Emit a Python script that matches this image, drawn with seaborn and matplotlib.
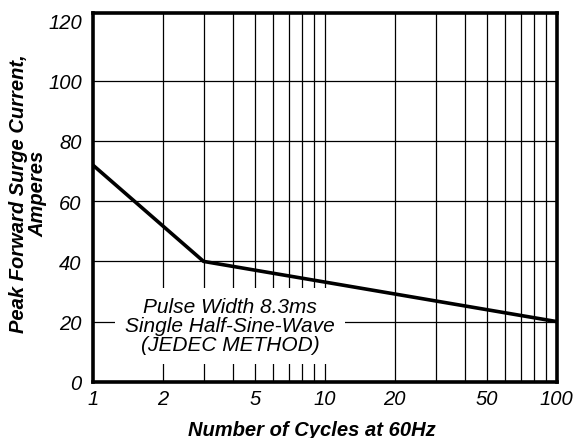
import numpy as np
import pandas as pd
import matplotlib
matplotlib.use("Agg")
import matplotlib.pyplot as plt
import seaborn as sns

# curve
cycles = [1, 3, 100]
current = [72, 40, 20]

x_ticks = [1, 2, 5, 10, 20, 50, 100]
x_grid = [2, 3, 4, 5, 6, 7, 8, 9, 10, 20, 30, 40, 50, 60, 70, 80, 90]
y_ticks = [0, 20, 40, 60, 80, 100, 120]

sns.set_style("white")
plt.rcParams['font.family'] = ['Liberation Sans', 'DejaVu Sans']
plt.rcParams['text.color'] = 'black'
plt.rcParams['axes.labelcolor'] = 'black'
plt.rcParams['xtick.color'] = 'black'
plt.rcParams['ytick.color'] = 'black'

df = pd.DataFrame({"cycles": cycles, "current": current})

fig = plt.figure(figsize=(5.77, 4.39), dpi=100)
ax = fig.add_axes([0.161, 0.128, 0.804, 0.840])

ax.set_xscale("log")
ax.set_xlim(1, 100)
ax.set_ylim(0, 122.5)

# grid
for xv in x_grid:
    ax.axvline(xv, color="black", lw=0.9, zorder=1)
for yv in y_ticks[1:-1]:
    ax.axhline(yv, color="black", lw=0.9, zorder=1)

sns.lineplot(data=df, x="cycles", y="current", color="black", lw=2.6, ax=ax, zorder=4)

ax.text(3.9, 18.7, "Pulse Width 8.3ms\nSingle Half-Sine-Wave\n(JEDEC METHOD)",
        ha="center", va="center", fontsize=15, style="italic", linespacing=0.98,
        bbox=dict(facecolor="white", edgecolor="none", pad=7), zorder=3)

ax.set_xticks(x_ticks)
ax.set_xticklabels([str(v) for v in x_ticks], fontsize=14.5, style="italic")
ax.xaxis.set_minor_locator(matplotlib.ticker.NullLocator())
ax.set_yticks(y_ticks)
ax.set_yticklabels([str(v) for v in y_ticks], fontsize=14.5, style="italic")
ax.tick_params(axis="y", length=0, pad=8)
ax.tick_params(axis="x", length=0, pad=5)

ax.set_xlabel("Number of Cycles at 60Hz", fontsize=14.5, weight="bold", style="italic")
ax.xaxis.set_label_coords(0.472, -0.103)
ax.set_ylabel("Peak Forward Surge Current,\nAmperes", fontsize=14.5, weight="bold", style="italic",
              linespacing=1.08)
ax.yaxis.set_label_coords(-0.097, 0.512)

for s in ax.spines.values():
    s.set_linewidth(2.6)
    s.set_color("black")
    s.set_zorder(5)

fig.savefig("out.png", dpi=100)
